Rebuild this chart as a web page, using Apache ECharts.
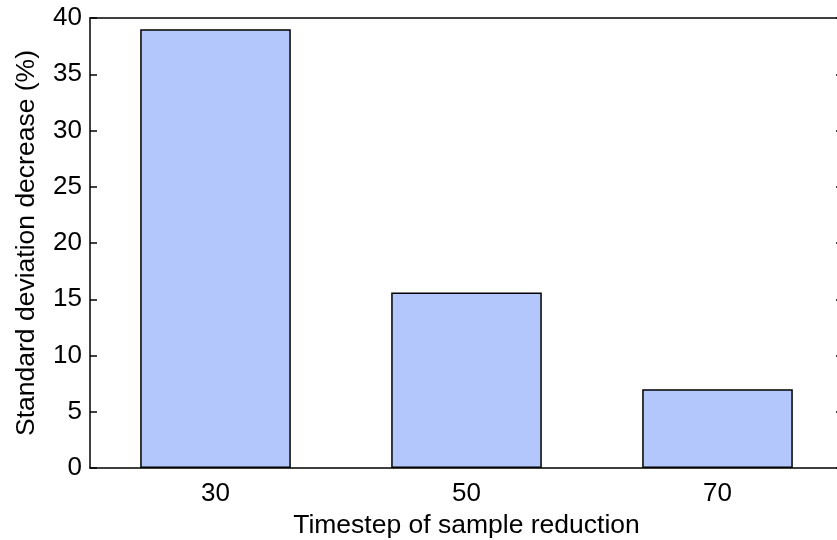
<!DOCTYPE html>
<html>
<head>
<meta charset="utf-8">
<script src="https://cdn.jsdelivr.net/npm/echarts@6/dist/echarts.min.js"></script>
<style>
  html, body { margin: 0; padding: 0; background: #fff; }
  #chart { width: 837px; height: 540px; }
</style>
</head>
<body>
<div id="chart"></div>
<script>
var categories = ['30', '50', '70'];
var values = [39.0, 15.6, 7.0];

var chart = echarts.init(document.getElementById('chart'), null, { renderer: 'canvas' });

var font = 'Liberation Sans, Arial, sans-serif';
var lineStyle = { color: '#000', width: 1.5 };

chart.setOption({
  backgroundColor: '#fff',
  animation: false,
  grid: {
    left: 90,
    top: 18,
    right: -6,
    bottom: 72,
    containLabel: false,
    outerBoundsMode: 'none'
  },
  xAxis: [{
    type: 'category',
    data: categories,
    position: 'bottom',
    boundaryGap: true,
    axisLine: { onZero: false, lineStyle: lineStyle },
    axisTick: { inside: true, alignWithLabel: true, length: 7, lineStyle: lineStyle },
    axisLabel: { color: '#000', fontSize: 26, fontFamily: font, margin: 13 },
    name: 'Timestep of sample reduction',
    nameLocation: 'middle',
    nameGap: 37,
    nameTextStyle: { color: '#000', fontSize: 26.5, fontFamily: font },
    splitLine: { show: false }
  }, {
    type: 'category',
    data: categories,
    position: 'top',
    boundaryGap: true,
    axisLine: { onZero: false, lineStyle: lineStyle },
    axisTick: { inside: true, alignWithLabel: true, length: 7, lineStyle: lineStyle },
    axisLabel: { show: false },
    splitLine: { show: false }
  }],
  yAxis: [{
    type: 'value',
    min: 0,
    max: 40,
    interval: 5,
    position: 'left',
    axisLine: { show: true, onZero: false, lineStyle: lineStyle },
    axisTick: { show: true, inside: true, length: 7, lineStyle: lineStyle },
    axisLabel: { color: '#000', fontSize: 26, fontFamily: font, margin: 8 },
    splitLine: { show: false },
    name: 'Standard deviation decrease (%)',
    nameLocation: 'middle',
    nameGap: 50,
    nameTextStyle: { color: '#000', fontSize: 26.5, fontFamily: font }
  }, {
    type: 'value',
    min: 0,
    max: 40,
    interval: 5,
    position: 'right',
    axisLine: { show: true, onZero: false, lineStyle: lineStyle },
    axisTick: { show: true, inside: true, length: 7, lineStyle: lineStyle },
    axisLabel: { show: false },
    splitLine: { show: false }
  }],
  series: [{
    type: 'bar',
    xAxisIndex: 0,
    yAxisIndex: 0,
    data: values,
    barWidth: '60%',
    itemStyle: {
      color: '#b3c7fd',
      borderColor: '#000',
      borderWidth: 1.5
    }
  }]
});
</script>
</body>
</html>
